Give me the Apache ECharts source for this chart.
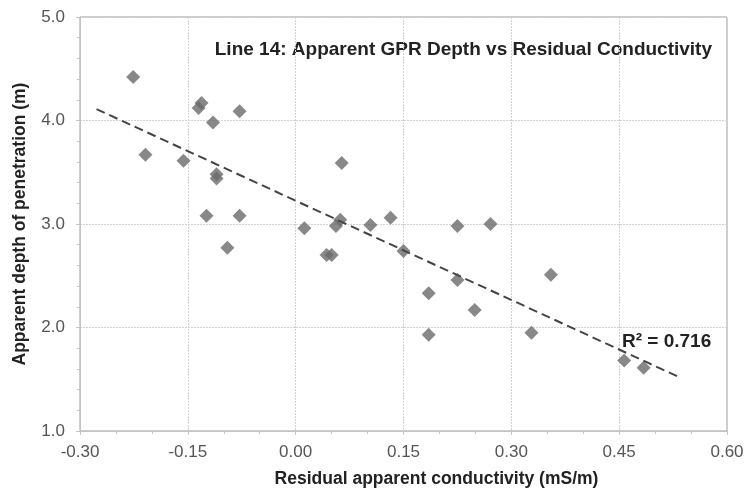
<!DOCTYPE html>
<html>
<head>
<meta charset="utf-8">
<script src="https://cdn.jsdelivr.net/npm/echarts@6/dist/echarts.min.js"></script>
<style>
  html, body { margin: 0; padding: 0; background: #fff; }
  #chart { width: 747px; height: 493px; }
</style>
</head>
<body>
<div id="chart"></div>
<script>
// residual conductivity (mS/m) vs apparent GPR depth (m)
const residualX = [
  -0.226, -0.209, -0.156, -0.135, -0.131, -0.115, -0.078, -0.110, -0.110, -0.124,
  -0.078, -0.095, 0.012, 0.043, 0.050, 0.056, 0.062, 0.064, 0.104, 0.132,
  0.150, 0.225, 0.271, 0.185, 0.225, 0.249, 0.355, 0.185, 0.328, 0.457, 0.484
];
const depthY = [
  4.42, 3.67, 3.61, 4.12, 4.17, 3.98, 4.09, 3.48, 3.44, 3.08,
  3.08, 2.77, 2.96, 2.70, 2.70, 2.98, 3.04, 3.59, 2.99, 3.06,
  2.74, 2.98, 3.00, 2.33, 2.46, 2.17, 2.51, 1.93, 1.95, 1.68, 1.61
];
// linear trend as drawn in the source
const trendX = [-0.277, 0.532];
const trendY = [4.11, 1.525];
const rSquared = "0.716";

const xTicks = { min: -0.3, max: 0.6, step: 0.15 };
const yTicks = { min: 1.0, max: 5.0, step: 1.0 };

const chart = echarts.init(document.getElementById("chart"));
const font = "Arial, 'Liberation Sans', sans-serif";

chart.setOption({
  animation: false,
  backgroundColor: "#fff",
  grid: { left: 80, top: 17, right: 20, bottom: 59, show: true, borderColor: "#9a9a9a", borderWidth: 1 },
  xAxis: {
    type: "value",
    min: xTicks.min,
    max: xTicks.max,
    interval: xTicks.step,
    name: "Residual apparent conductivity (mS/m)",
    nameLocation: "middle",
    nameGap: 39,
    nameTextStyle: { fontFamily: font, fontWeight: "bold", fontSize: 17.5, color: "#222", padding: [0, 0, 0, 66] },
    axisLine: { onZero: false, lineStyle: { color: "#c4c4c4" } },
    axisTick: { lineStyle: { color: "#c4c4c4" }, length: 4 },
    minorTick: { show: true, splitNumber: 3, length: 3, lineStyle: { color: "#c4c4c4" } },
    axisLabel: {
      fontFamily: font, fontSize: 17, color: "#555", margin: 13,
      formatter: v => v.toFixed(2)
    },
    splitLine: { lineStyle: { color: "#d2d2d2", type: [2, 1] } }
  },
  yAxis: {
    type: "value",
    min: yTicks.min,
    max: yTicks.max,
    interval: yTicks.step,
    name: "Apparent depth of penetration (m)",
    nameLocation: "middle",
    nameGap: 51,
    nameTextStyle: { fontFamily: font, fontWeight: "bold", fontSize: 17.5, color: "#222" },
    axisLine: { show: true, onZero: false, lineStyle: { color: "#c4c4c4" } },
    axisTick: { show: true, lineStyle: { color: "#c4c4c4" }, length: 4 },
    minorTick: { show: true, splitNumber: 5, length: 3, lineStyle: { color: "#c4c4c4" } },
    axisLabel: {
      fontFamily: font, fontSize: 17, color: "#555", margin: 15,
      formatter: v => v.toFixed(1)
    },
    splitLine: { lineStyle: { color: "#d2d2d2", type: [2, 1] } }
  },
  series: [
    {
      type: "scatter",
      symbol: "diamond",
      symbolSize: [14, 14],
      itemStyle: { color: "#6a6a6a" },
      data: residualX.map((x, i) => [x, depthY[i]]),
      z: 3
    },
    {
      type: "line",
      data: trendX.map((x, i) => [x, trendY[i]]),
      showSymbol: false,
      lineStyle: { color: "#444", width: 2, type: [9, 5] },
      z: 4
    }
  ],
  graphic: [
    {
      type: "text",
      right: 35,
      top: 40,
      style: {
        text: "Line 14: Apparent GPR Depth vs Residual Conductivity",
        font: "bold 19px " + font,
        fill: "#222"
      }
    },
    {
      type: "text",
      left: 622,
      top: 332,
      style: {
        text: "R\u00b2 = " + rSquared,
        font: "bold 19px " + font,
        fill: "#222"
      }
    }
  ]
});
</script>
</body>
</html>
